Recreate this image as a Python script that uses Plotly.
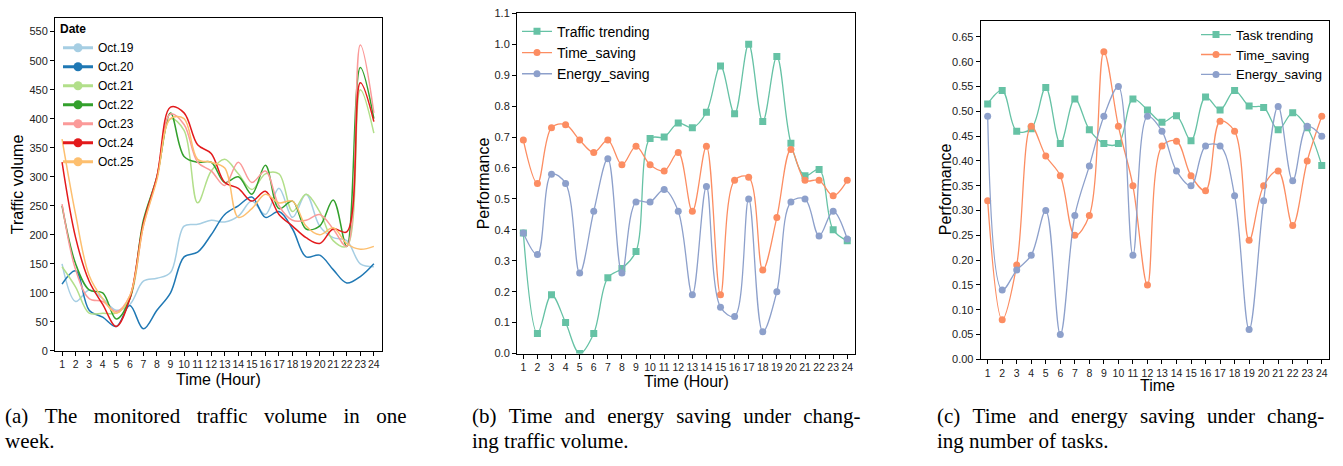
import plotly.graph_objects as go

# ---------------- data ----------------
hours = list(range(1, 25))

# panel (a): hourly traffic volume
dates = ["Oct.19", "Oct.20", "Oct.21", "Oct.22", "Oct.23", "Oct.24", "Oct.25"]
oct19 = [150, 85, 105, 90, 70, 80, 120, 125, 135, 215, 218, 225, 222, 232, 258, 235, 280, 230, 270, 215, 195, 190, 150, 145]
oct20 = [115, 138, 70, 58, 42, 78, 38, 70, 100, 162, 170, 200, 235, 250, 265, 230, 240, 210, 162, 165, 140, 117, 128, 150]
oct21 = [145, 110, 65, 65, 65, 90, 220, 300, 400, 380, 255, 310, 330, 305, 278, 305, 305, 240, 270, 240, 190, 180, 450, 375]
oct22 = [250, 150, 105, 100, 55, 90, 225, 300, 410, 335, 325, 325, 290, 300, 270, 320, 245, 258, 210, 215, 260, 180, 488, 400]
oct23 = [253, 140, 90, 85, 68, 95, 215, 300, 408, 390, 325, 310, 285, 325, 290, 310, 250, 225, 225, 235, 210, 180, 527, 410]
oct24 = [325, 195, 120, 80, 42, 90, 220, 300, 420, 410, 355, 340, 290, 280, 258, 275, 235, 215, 195, 185, 210, 205, 462, 395]
oct25 = [365, 235, 130, 90, 65, 95, 215, 295, 400, 400, 330, 325, 315, 230, 245, 270, 255, 258, 215, 200, 212, 185, 175, 180]
series_a = [oct19, oct20, oct21, oct22, oct23, oct24, oct25]
colors_a = ["#a6cee3", "#1f78b4", "#b2df8a", "#33a02c", "#fb9a99", "#e31a1c", "#fdbf6f"]

# panel (b): performance vs traffic
traffic_trending = [0.39, 0.065, 0.19, 0.10, 0.0, 0.065, 0.245, 0.275, 0.33, 0.695, 0.70, 0.745,
                    0.73, 0.78, 0.93, 0.775, 1.0, 0.75, 0.96, 0.68, 0.575, 0.595, 0.40, 0.365]
time_saving_b = [0.69, 0.55, 0.73, 0.74, 0.69, 0.65, 0.69, 0.61, 0.67, 0.61, 0.59, 0.65,
                 0.46, 0.67, 0.19, 0.56, 0.57, 0.27, 0.44, 0.66, 0.56, 0.56, 0.51, 0.56]
energy_saving_b = [0.39, 0.32, 0.58, 0.55, 0.26, 0.46, 0.63, 0.26, 0.49, 0.49, 0.53, 0.46,
                   0.19, 0.54, 0.15, 0.12, 0.50, 0.07, 0.20, 0.49, 0.50, 0.38, 0.46, 0.37]

# panel (c): performance vs tasks
task_trending = [0.515, 0.542, 0.46, 0.465, 0.548, 0.435, 0.525, 0.463, 0.435, 0.435, 0.525, 0.503,
                 0.478, 0.491, 0.441, 0.529, 0.503, 0.542, 0.511, 0.508, 0.463, 0.497, 0.467, 0.391]
time_saving_c = [0.32, 0.08, 0.19, 0.47, 0.41, 0.37, 0.25, 0.29, 0.62, 0.47, 0.35, 0.15,
                 0.43, 0.44, 0.37, 0.34, 0.48, 0.46, 0.24, 0.35, 0.38, 0.27, 0.40, 0.49]
energy_saving_c = [0.49, 0.14, 0.18, 0.21, 0.30, 0.05, 0.29, 0.39, 0.49, 0.55, 0.21, 0.49,
                   0.46, 0.38, 0.35, 0.43, 0.43, 0.33, 0.06, 0.32, 0.51, 0.36, 0.47, 0.45]

set2 = ["#66c2a5", "#fc8d62", "#8da0cb"]

W, H = 1343, 466
SANS = "Liberation Sans, Arial, sans-serif"
SERIF = "Liberation Serif, Times New Roman, serif"

fig = go.Figure()

# ---- panel (a)
for name, vals, col in zip(dates, series_a, colors_a):
    fig.add_trace(go.Scatter(x=hours, y=vals, mode="lines",
                             line=dict(color=col, width=1.5, shape="spline", smoothing=1),
                             showlegend=False, xaxis="x", yaxis="y", hoverinfo="skip"))
for name, col in zip(dates, colors_a):
    fig.add_trace(go.Scatter(x=[None], y=[None], mode="lines+markers", name=name,
                             line=dict(color=col, width=3), marker=dict(color=col, size=9),
                             legend="legend", xaxis="x", yaxis="y"))

# ---- panel (b)
for name, vals, col, sym in [("Traffic trending", traffic_trending, set2[0], "square"),
                             ("Time_saving", time_saving_b, set2[1], "circle"),
                             ("Energy_saving", energy_saving_b, set2[2], "circle")]:
    fig.add_trace(go.Scatter(x=hours, y=vals, mode="lines+markers", name=name,
                             line=dict(color=col, width=1.3, shape="spline", smoothing=1),
                             marker=dict(color=col, size=7, symbol=sym),
                             legend="legend2", xaxis="x2", yaxis="y2"))

# ---- panel (c)
for name, vals, col, sym in [("Task trending", task_trending, set2[0], "square"),
                             ("Time_saving", time_saving_c, set2[1], "circle"),
                             ("Energy_saving", energy_saving_c, set2[2], "circle")]:
    fig.add_trace(go.Scatter(x=hours, y=vals, mode="lines+markers", name=name,
                             line=dict(color=col, width=1.3, shape="spline", smoothing=1),
                             marker=dict(color=col, size=7, symbol=sym),
                             legend="legend3", xaxis="x3", yaxis="y3"))


def px_x(v):
    return v / W


def px_y(v):
    return 1 - v / H


axis_common = dict(showline=True, linecolor="black", linewidth=1, mirror=True,
                   ticks="outside", ticklen=4, tickwidth=1, tickcolor="black",
                   showgrid=False, zeroline=False,
                   tickfont=dict(family=SANS, size=11, color="#222"))
xtick_font = dict(family=SANS, size=10.5, color="#222")

fig.update_layout(
    width=W, height=H, margin=dict(l=0, r=0, t=0, b=0),
    paper_bgcolor="white", plot_bgcolor="white",
    xaxis=dict(domain=[px_x(55), px_x(382)], range=[0.48, 24.6], tickvals=hours, anchor="y", **axis_common),
    yaxis=dict(domain=[px_y(354), px_y(12)], range=[0, 574], tickvals=list(range(0, 551, 50)), anchor="x", **axis_common),
    xaxis2=dict(domain=[px_x(517), px_x(855)], range=[0.55, 24.55], tickvals=hours, anchor="y2", **axis_common),
    yaxis2=dict(domain=[px_y(356.7), px_y(7.5)], range=[0, 1.1], tickvals=[i / 10 for i in range(12)],
                tickformat=".1f", anchor="x2", **axis_common),
    xaxis3=dict(domain=[px_x(980.7), px_x(1329.3)], range=[0.52, 24.52], tickvals=hours, anchor="y3", **axis_common),
    yaxis3=dict(domain=[px_y(362.7), px_y(15)], range=[0, 0.683], tickvals=[i * 0.05 for i in range(14)],
                tickformat=".2f", anchor="x3", **axis_common),
    legend=dict(x=px_x(58), y=px_y(12), xanchor="left", yanchor="top", bgcolor="rgba(0,0,0,0)",
                title=dict(text="<b>Date</b>", font=dict(family=SANS, size=12, color="black")),
                font=dict(family=SANS, size=12, color="black"), tracegroupgap=0),
    legend2=dict(x=px_x(517), y=px_y(10), xanchor="left", yanchor="top", bgcolor="rgba(0,0,0,0)",
                 font=dict(family=SANS, size=14, color="black")),
    legend3=dict(x=px_x(1196), y=px_y(14), xanchor="left", yanchor="top", bgcolor="rgba(0,0,0,0)",
                 font=dict(family=SANS, size=13, color="black")),
)
for ax in ("xaxis", "xaxis2", "xaxis3"):
    fig.layout[ax].tickangle = 0
    fig.layout[ax].tickfont = xtick_font

ann = []
# axis titles
ann.append(dict(text="Traffic volume", x=px_x(17), y=px_y(183), textangle=-90, font=dict(family=SANS, size=16)))
ann.append(dict(text="Time (Hour)", x=px_x(218.5), y=px_y(383), font=dict(family=SANS, size=16)))
ann.append(dict(text="Performance", x=px_x(483), y=px_y(182), textangle=-90, font=dict(family=SANS, size=16)))
ann.append(dict(text="Time (Hour)", x=px_x(686), y=px_y(385), font=dict(family=SANS, size=16)))
ann.append(dict(text="Performance", x=px_x(945), y=px_y(188), textangle=-90, font=dict(family=SANS, size=16)))
ann.append(dict(text="Time", x=px_x(1157), y=px_y(390), font=dict(family=SANS, size=16)))

# captions (justified first lines approximated with wider spaces)
wide_a = "\u2002\u2009\u200a"
wide_b = "\u2002\u200a"
captions = [
    (3, "(a) The monitored traffic volume in one".replace(" ", wide_a), "week."),
    (470, "(b) Time and energy saving under chang-".replace(" ", wide_b), "ing traffic volume."),
    (935, "(c) Time and energy saving under chang-".replace(" ", wide_b), "ing number of tasks."),
]
for x0, l1, l2 in captions:
    ann.append(dict(text=l1, x=px_x(x0), y=px_y(421), xanchor="left", font=dict(family=SERIF, size=21)))
    ann.append(dict(text=l2, x=px_x(x0), y=px_y(446), xanchor="left", font=dict(family=SERIF, size=21)))

for a in ann:
    a.setdefault("xanchor", "center")
    a.update(xref="paper", yref="paper", yanchor="middle", showarrow=False)
    a["font"]["color"] = "black"
fig.update_layout(annotations=ann)

fig.write_html("out.html")
